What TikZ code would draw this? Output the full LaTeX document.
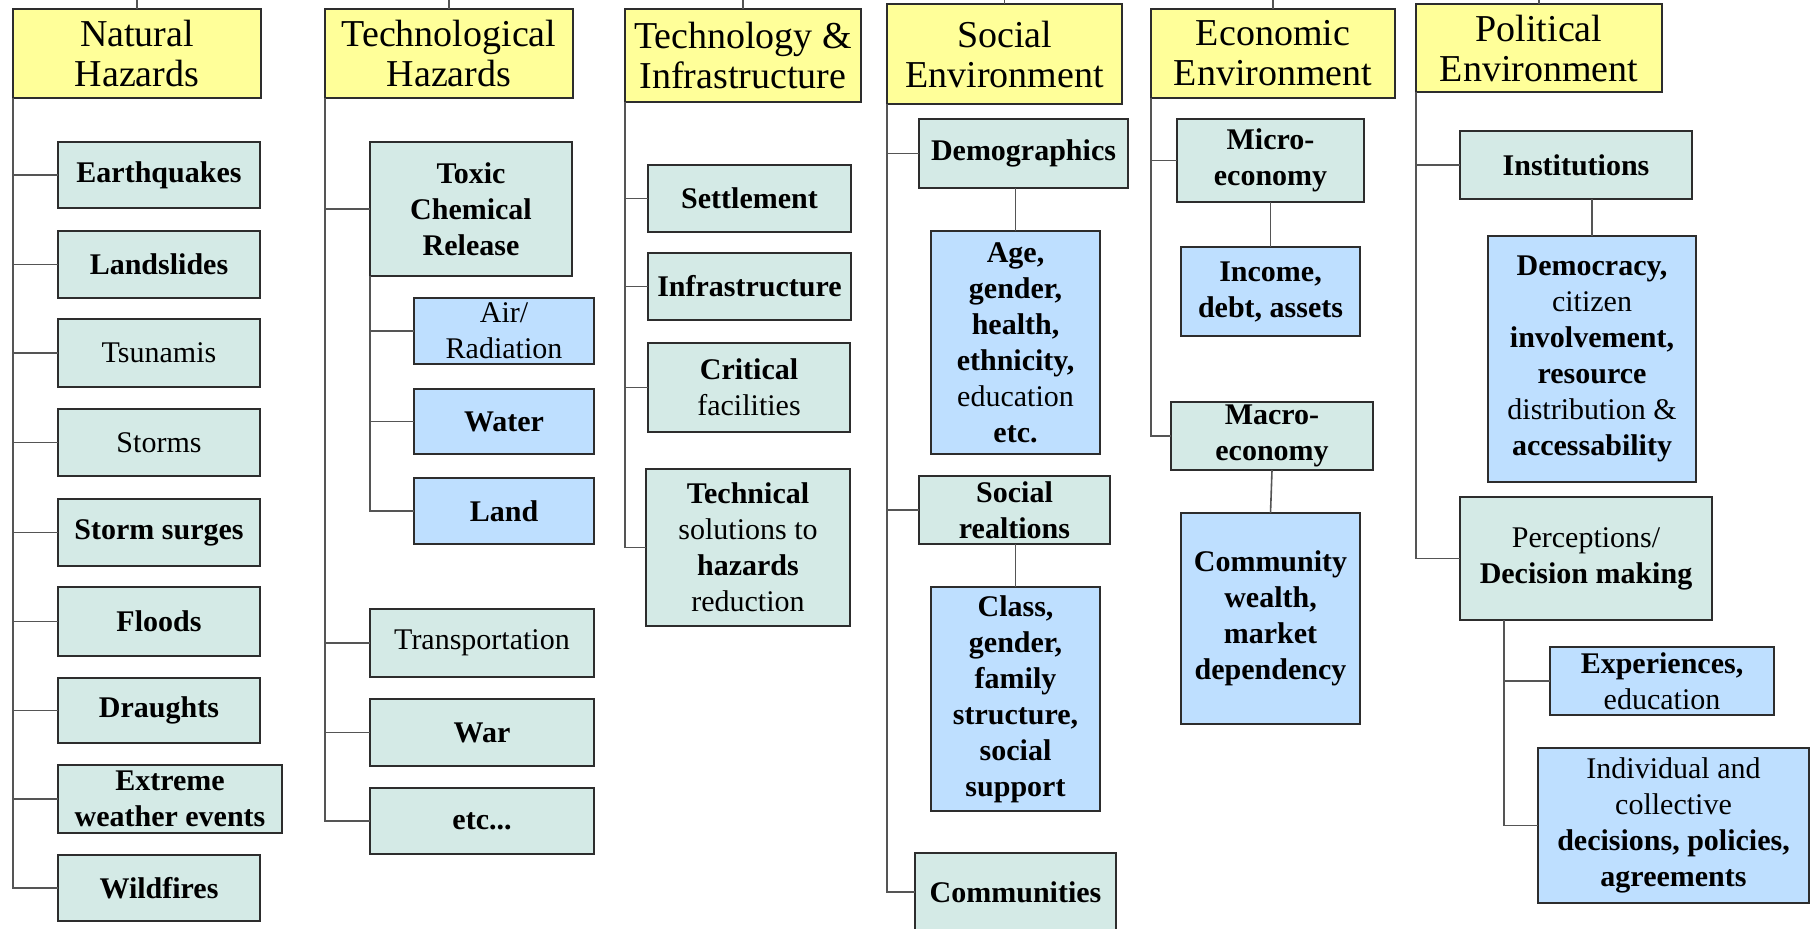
\documentclass[tikz,border=0pt]{standalone}
\usepackage{fontspec}
\setmainfont{Liberation Serif}
\definecolor{hdr}{RGB}{255,255,153}
\definecolor{tealbox}{RGB}{212,234,230}
\definecolor{bluebox}{RGB}{190,223,255}
\definecolor{edge}{RGB}{45,45,45}
\definecolor{conn}{RGB}{85,85,85}
\tikzset{
  base/.style={draw=edge, line width=0.9pt, inner sep=0pt, outer sep=0pt, align=center},
  hdrbox/.style={base, fill=hdr, font=\fontsize{19}{20}\selectfont},
  tbox/.style={base, fill=tealbox, font=\fontsize{15}{18}\selectfont\bfseries},
  bbox/.style={base, fill=bluebox, font=\fontsize{15}{18}\selectfont\bfseries},
  link/.style={draw=conn, line width=0.8pt},
}
\newcommand\mkbox[7]{\node[#1, minimum width={(#5-#3)*0.5pt}, minimum height={(#6-#4)*0.5pt}] (#2) at ({(#3+#5)/2},{(#4+#6)/2}) {#7};}
\newcommand\rg{\mdseries}
\newcommand\bd{\bfseries}
\begin{document}
\begin{tikzpicture}[x=0.5pt,y=-0.5pt]
\clip (0,0) rectangle (1818,928);
\fill[white] (0,0) rectangle (1818,928);
\coordinate (top) at (0,0);
% headers
\mkbox{hdrbox}{NH}{13}{9}{261}{98}{Natural\\Hazards}
\mkbox{hdrbox}{TH}{325}{9}{573}{98}{Technological\\Hazards}
\mkbox{hdrbox}{TI}{625}{9}{861}{102}{Technology \&\\Infrastructure}
\mkbox{hdrbox}{SE}{887}{4}{1122}{104}{Social\\Environment}
\mkbox{hdrbox}{EC}{1151}{9}{1395}{98}{Economic\\Environment}
\mkbox{hdrbox}{PE}{1416}{4}{1662}{92}{Political\\Environment}
% natural hazards
\mkbox{tbox}{EQ}{58}{142}{260}{208}{Earthquakes}
\mkbox{tbox}{LS}{58}{231}{260}{298}{Landslides}
\mkbox{tbox}{TS}{58}{319}{260}{387}{\rg Tsunamis}
\mkbox{tbox}{ST}{58}{409}{260}{476}{\rg Storms}
\mkbox{tbox}{SS}{58}{499}{260}{566}{Storm surges}
\mkbox{tbox}{FL}{58}{587}{260}{656}{Floods}
\mkbox{tbox}{DR}{58}{678}{260}{743}{Draughts}
\mkbox{tbox}{EW}{58}{765}{282}{833}{Extreme\\weather events}
\mkbox{tbox}{WF}{58}{855}{260}{921}{Wildfires}
% technological hazards
\mkbox{tbox}{TX}{370}{142}{572}{276}{Toxic\\Chemical\\Release}
\mkbox{bbox}{AR}{414}{298}{594}{364}{\rg Air/\\\rg Radiation}
\mkbox{bbox}{WA}{414}{389}{594}{454}{Water}
\mkbox{bbox}{LD}{414}{478}{594}{544}{Land}
\mkbox{tbox}{TR}{370}{609}{594}{677}{\rg Transportation}
\mkbox{tbox}{WR}{370}{699}{594}{766}{War}
\mkbox{tbox}{ET}{370}{788}{594}{854}{etc...}
% technology & infrastructure
\mkbox{tbox}{SM}{648}{165}{851}{232}{Settlement}
\mkbox{tbox}{IF}{648}{253}{851}{320}{Infrastructure}
\mkbox{tbox}{CF}{648}{343}{850}{432}{Critical\\\rg facilities}
\mkbox{tbox}{TSOL}{646}{469}{850}{626}{Technical\\\rg solutions to\\hazards\\\rg reduction}
% social environment
\mkbox{tbox}{DM}{919}{119}{1128}{188}{Demographics}
\mkbox{bbox}{AG}{931}{231}{1100}{454}{Age,\\gender,\\health,\\ethnicity,\\\rg education\\etc.}
\mkbox{tbox}{SR}{919}{476}{1110}{544}{Social\\realtions}
\mkbox{bbox}{CL}{931}{587}{1100}{811}{Class,\\gender,\\family\\structure,\\social\\support}
\mkbox{tbox}{CM}{915}{853}{1116}{931}{Communities}
% economic environment
\mkbox{tbox}{MI}{1177}{119}{1364}{202}{Micro-\\economy}
\mkbox{bbox}{IN}{1181}{247}{1360}{336}{Income,\\debt, assets}
\mkbox{tbox}{MA}{1171}{402}{1373}{470}{Macro-\\economy}
\mkbox{bbox}{CW}{1181}{513}{1360}{724}{Community\\wealth,\\market\\dependency}
% political environment
\mkbox{tbox}{IS}{1460}{131}{1692}{199}{Institutions}
\mkbox{bbox}{DE}{1488}{236}{1696}{482}{Democracy,\\\rg citizen\\involvement,\\resource\\\rg distribution \&\\accessability}
\mkbox{tbox}{PD}{1460}{497}{1712}{620}{\rg Perceptions/\\Decision making}
\mkbox{bbox}{EX}{1550}{647}{1774}{715}{Experiences,\\\rg education}
\mkbox{bbox}{IV}{1538}{748}{1809}{903}{\rg Individual and\\\rg collective\\decisions, policies,\\agreements}
% connectors
\foreach \n in {NH,TH,TI,SE,EC,PE} \draw[link] (\n.north) -- (\n.north |- top);
\foreach \n in {EQ,LS,TS,ST,SS,FL,DR,EW,WF} \draw[link] (NH.south west) |- (\n.west);
\foreach \n in {TX,TR,WR,ET} \draw[link] (TH.south west) |- (\n.west);
\foreach \n in {AR,WA,LD} \draw[link] (TX.south west) |- (\n.west);
\foreach \n in {SM,IF,CF,TSOL} \draw[link] (TI.south west) |- (\n.west);
\foreach \n in {DM,SR,CM} \draw[link] (SE.south west) |- (\n.west);
\foreach \n in {MI,MA} \draw[link] (EC.south west) |- (\n.west);
\foreach \n in {IS,PD} \draw[link] (PE.south west) |- (\n.west);
\foreach \n in {EX,IV} \draw[link] ([xshift=22pt]PD.south west) |- (\n.west);
\draw[link] (DM.south -| AG.north) -- (AG.north);
\draw[link] (SR.south -| CL.north) -- (CL.north);
\draw[link] (MI.south) -- (IN.north);
\draw[link] (MA.south) -- (CW.north);
\draw[link] (IS.south -| DE.north) -- (DE.north);
\end{tikzpicture}
\end{document}
